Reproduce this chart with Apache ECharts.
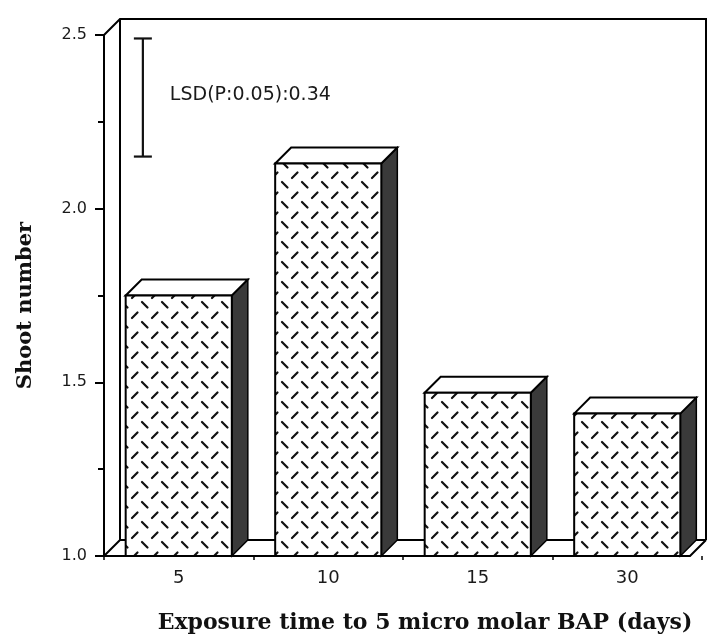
<!DOCTYPE html>
<html>
<head>
<meta charset="utf-8">
<script src="https://cdn.jsdelivr.net/npm/echarts@6/dist/echarts.min.js"></script>
<style>html,body{margin:0;padding:0;background:#fff}#c{width:710px;height:640px}</style>
</head>
<body>
<div id="c"></div>
<script>
// ---- data ----
const categories = ['5', '10', '15', '30'];
const shootNumber = [1.75, 2.13, 1.47, 1.41];
const yMin = 1.0, yMax = 2.5, yStep = 0.5;
const lsdTop = 2.49;
const lsdValue = 0.34;
const lsdLabel = 'LSD(P:0.05):0.34';
const xTitle = 'Exposure time to 5 micro molar BAP (days)';
const yTitle = 'Shoot number';

// ---- pattern for bar fronts ----
const pc = document.createElement('canvas');
pc.width = 20; pc.height = 20;
const g = pc.getContext('2d');
g.fillStyle = '#fff'; g.fillRect(0, 0, 20, 20);
g.strokeStyle = '#111'; g.lineWidth = 2.2; g.lineCap = 'round';
g.beginPath(); g.moveTo(2, 2); g.lineTo(7.5, 7.5); g.stroke();
g.beginPath(); g.moveTo(12, 18); g.lineTo(17.5, 12.5); g.stroke();
const pattern = { image: pc, repeat: 'repeat' };

const D = 16; // 3D depth

const chart = echarts.init(document.getElementById('c'), null, { renderer: 'canvas' });

function renderFrame(params, api) {
  const cs = params.coordSys;
  const L = cs.x, R = cs.x + cs.width + 4;
  const yT = api.coord([0, yMax])[1];
  const yB = api.coord([0, yMin])[1];
  const st = { stroke: '#000', lineWidth: 2, fill: null };
  const line = (pts) => ({ type: 'polyline', shape: { points: pts }, style: st, silent: true });
  return {
    type: 'group',
    children: [
      line([[L, yT], [L + D, yT - D], [R, yT - D], [R, yB - D]]),
      line([[L + D, yT - D], [L + D, yB - D]]),
      line([[L, yB], [L + D, yB - D], [R, yB - D]]),
      line([[L, yB], [R - D, yB], [R, yB - D]])
    ]
  };
}

function renderBar(params, api) {
  const xi = api.value(0), v = api.value(1);
  const top = api.coord([xi, v]);
  const base = api.coord([xi, yMin]);
  const band = api.size([1, 0])[0];
  const w = band * 0.71;
  const x0 = top[0] - w / 2, x1 = top[0] + w / 2, yt = top[1], yb = base[1];
  return {
    type: 'group',
    children: [
      { type: 'polygon', shape: { points: [[x1, yt], [x1 + D, yt - D], [x1 + D, yb - D], [x1, yb]] },
        style: { fill: '#3a3a3a', stroke: '#000', lineWidth: 1.5 } },
      { type: 'polygon', shape: { points: [[x0, yt], [x0 + D, yt - D], [x1 + D, yt - D], [x1, yt]] },
        style: { fill: '#fff', stroke: '#000', lineWidth: 2 } },
      { type: 'rect', shape: { x: x0, y: yt, width: w, height: yb - yt },
        style: { fill: pattern, stroke: '#000', lineWidth: 2 } }
    ]
  };
}

function renderLsd(params, api) {
  const xi = api.value(0);
  const band = api.size([1, 0])[0];
  const pT = api.coord([xi, api.value(1)]);
  const pB = api.coord([xi, api.value(2)]);
  const x = pT[0] - band * 0.24;
  const cap = 9;
  const st = { stroke: '#111', lineWidth: 2.2, fill: null };
  return {
    type: 'group',
    children: [
      { type: 'line', shape: { x1: x, y1: pT[1], x2: x, y2: pB[1] }, style: st },
      { type: 'line', shape: { x1: x - cap, y1: pT[1], x2: x + cap, y2: pT[1] }, style: st },
      { type: 'line', shape: { x1: x - cap, y1: pB[1], x2: x + cap, y2: pB[1] }, style: st },
      { type: 'text', x: x + 27, y: (pT[1] + pB[1]) / 2 - 2,
        style: { text: lsdLabel, fill: '#1a1a1a', font: '19px "DejaVu Sans"', textAlign: 'left', textVerticalAlign: 'middle' } }
    ]
  };
}

chart.setOption({
  animation: false,
  backgroundColor: '#fff',
  grid: { left: 104, right: 8, top: 35, bottom: 84, containLabel: false },
  xAxis: {
    type: 'category',
    data: categories,
    boundaryGap: true,
    axisLine: { show: false },
    axisTick: { show: true, length: 4, lineStyle: { color: '#000', width: 1.5 } },
    axisLabel: { margin: 13, color: '#1a1a1a', fontFamily: 'DejaVu Sans', fontSize: 18 },
    name: xTitle,
    nameLocation: 'middle',
    nameGap: 56,
    nameTextStyle: { fontFamily: 'DejaVu Serif', fontWeight: 'bold', fontSize: 22, color: '#111', padding: [0, 0, 0, 44] }
  },
  yAxis: {
    type: 'value',
    min: yMin, max: yMax, interval: yStep,
    axisLine: { show: true, lineStyle: { color: '#000', width: 2 } },
    axisTick: { show: true, inside: false, length: 9, lineStyle: { color: '#000', width: 2 } },
    minorTick: { show: true, splitNumber: 2, length: 6, lineStyle: { color: '#000', width: 2 } },
    splitLine: { show: false },
    axisLabel: { margin: 17, color: '#1a1a1a', fontFamily: 'DejaVu Sans', fontSize: 16, formatter: (v) => v.toFixed(1) },
    name: yTitle,
    nameLocation: 'middle',
    nameGap: 68,
    nameRotate: 90,
    nameTextStyle: { fontFamily: 'DejaVu Serif', fontWeight: 'bold', fontSize: 21, color: '#111', padding: [0, 20, 0, 0] }
  },
  series: [
    { type: 'custom', name: 'frame', renderItem: renderFrame, data: [[0, yMin]], silent: true, z: 1 },
    { type: 'custom', name: 'Shoot number', renderItem: renderBar,
      data: shootNumber.map((v, i) => [i, v]), encode: { x: 0, y: 1 }, z: 2 },
    { type: 'custom', name: 'LSD', renderItem: renderLsd,
      data: [[0, lsdTop, lsdTop - lsdValue]], encode: { x: 0, y: [1, 2] }, z: 3 }
  ]
});
</script>
</body>
</html>
